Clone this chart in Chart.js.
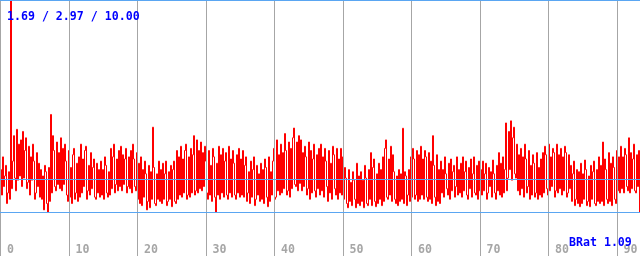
<!DOCTYPE html>
<html><head><meta charset="utf-8">
<script src="https://cdn.jsdelivr.net/npm/chart.js@4.4.1/dist/chart.umd.min.js"></script>
<style>html,body{margin:0;padding:0;background:#fff}#wrap{width:640px;height:256px}</style>
</head><body><div id="wrap"><canvas id="c" width="640" height="256"></canvas></div>
<script>
// series values, one sample per pixel column
const values = [
2.0,0.8,2.6,1.2, 1.7,2.2,0.4,0.9, 1.9,0.6,10.0,1.1, 2.4,3.6,1.6,1.0, 3.9,1.5,3.2,1.7,
3.4,1.2,3.8,1.6, 2.9,3.5,1.1,1.4, 3.1,0.8,2.6,1.5, 3.2,2.4,0.6,0.9, 2.8,1.2,2.3,0.7,
2.0,0.6,1.7,0.1, 2.2,1.9,0.4,0.0, 2.1,0.5,4.6,0.9, 3.6,2.9,1.2,1.0, 3.3,1.3,2.8,1.1,
3.5,1.0,3.0,1.3, 3.2,2.4,0.8,0.5, 2.9,0.7,2.1,0.4, 2.7,3.0,0.6,0.9, 2.3,0.5,2.6,0.7,
3.2,0.9,2.5,1.2, 2.9,3.1,0.6,1.0, 2.2,0.8,2.8,1.1, 2.1,2.5,0.7,0.6, 2.3,0.9,2.0,0.7,
2.4,0.8,2.0,0.6, 2.6,2.2,0.9,0.7, 1.9,0.8,3.0,1.1, 2.6,3.2,0.9,1.3, 2.5,1.0,2.9,1.2,
3.1,1.0,2.7,1.3, 2.5,3.0,0.9,1.2, 2.6,1.1,2.9,0.9, 3.2,2.5,1.2,1.0, 2.8,0.6,2.3,0.4,
2.6,0.3,2.0,0.7, 2.4,1.8,0.1,0.5, 2.2,0.2,1.9,0.6, 4.0,2.1,0.4,0.3, 1.8,0.6,2.4,0.5,
2.0,0.4,2.3,0.6, 1.8,2.4,0.3,0.5, 1.9,0.6,2.2,0.25, 2.0,2.4,0.5,0.4, 2.9,0.6,2.6,0.8,
3.1,0.7,2.5,0.9, 2.9,3.2,0.6,0.8, 2.6,0.7,3.0,0.9, 2.7,3.6,0.8,1.0, 3.4,0.9,2.9,1.1,
3.3,1.0,2.8,1.2, 3.1,2.4,0.9,0.6, 2.9,0.8,2.2,0.5, 3.0,2.6,0.7,0.0, 2.3,0.8,3.1,0.6,
2.7,0.9,3.0,0.7, 2.4,2.8,0.8,0.6, 3.1,0.9,2.5,0.7, 2.9,2.3,0.8,0.6, 2.7,0.9,3.0,0.7,
2.5,0.8,2.9,0.7, 2.2,2.6,0.5,0.9, 1.9,0.4,2.4,0.7, 2.0,2.6,0.3,0.6, 2.2,0.8,1.8,0.5,
2.3,0.6,2.0,0.4, 2.5,2.1,0.7,0.25, 2.6,0.5,1.9,0.8, 2.4,3.0,0.6,0.7, 3.4,1.0,2.7,0.8,
3.2,0.9,2.8,1.1, 3.7,2.9,0.8,1.0, 3.3,0.7,3.0,1.1, 3.5,3.96,1.3,1.2, 3.3,1.0,3.6,1.35,
3.4,1.0,2.8,1.2, 3.1,2.6,0.8,1.1, 3.3,0.6,2.9,0.9, 2.5,3.2,1.0,0.7, 2.7,1.1,3.0,0.8,
3.2,1.0,2.6,0.7, 3.0,2.4,1.2,0.5, 2.9,0.9,2.3,0.6, 3.1,2.7,1.1,0.8, 3.0,0.6,2.5,0.9,
3.0,0.8,2.6,0.6, 2.1,1.6,0.4,0.2, 2.0,0.5,1.4,0.3, 1.9,1.5,0.6,0.2, 2.3,0.4,1.7,0.3,
1.9,0.5,1.5,0.2, 2.2,1.6,0.4,0.3, 2.0,0.6,2.8,0.3, 2.1,2.5,0.5,0.25, 1.8,0.4,2.3,0.6,
2.0,0.3,2.6,0.5, 3.0,3.4,0.7,0.6, 2.5,0.8,3.1,0.5, 2.7,1.9,0.6,0.4, 1.7,0.3,2.0,0.5,
1.8,0.6,3.95,0.4, 1.9,1.7,0.3,0.8, 2.0,0.5,2.6,0.7, 3.0,2.5,0.6,0.8, 2.9,0.5,2.7,0.6,
3.1,0.8,2.5,0.6, 2.9,2.6,0.7,0.5, 2.8,0.6,2.4,0.4, 3.6,2.2,0.7,0.3, 2.7,0.5,2.0,0.4,
2.4,0.9,2.0,0.7, 2.6,1.8,1.1,0.8, 2.3,0.6,2.5,1.0, 1.9,2.2,0.7,1.2, 2.6,0.8,2.0,0.9,
2.3,0.7,2.6,1.0, 1.9,2.4,0.8,0.6, 2.1,1.1,2.5,0.7, 1.8,2.6,0.9,0.8, 2.2,0.6,2.4,1.0,
2.0,0.8,2.4,1.0, 1.8,2.3,0.6,0.9, 2.1,1.2,1.9,0.7, 2.45,1.8,0.9,0.6, 2.2,1.0,2.8,0.8,
2.3,0.7,2.6,0.9, 2.0,4.2,1.0,1.6, 3.8,2.0,4.3,1.5, 3.5,4.0,1.8,1.6, 3.2,1.0,2.7,0.8,
3.0,1.1,2.6,0.7, 3.2,2.5,0.9,1.2, 2.9,0.6,2.2,0.8, 2.7,2.3,0.7,0.9, 2.8,0.6,2.1,0.8,
2.5,0.7,2.8,0.9, 3.1,2.7,1.1,0.8, 3.2,1.0,2.6,1.2, 3.0,2.8,0.7,1.0, 3.2,0.9,2.7,1.1,
3.0,0.8,2.6,1.0, 3.1,2.8,0.7,0.9, 2.7,1.1,2.2,0.5, 1.8,2.4,0.3,0.6, 2.0,0.4,1.9,0.25,
2.3,0.4,1.8,0.6, 2.45,2.0,0.3,0.5, 1.7,0.25,2.2,0.6, 1.9,2.4,0.4,0.3, 2.0,0.5,2.6,0.4,
2.2,0.5,3.3,0.3, 2.5,2.0,0.6,0.4, 2.8,0.5,2.3,0.3, 2.6,2.1,0.6,0.4, 2.9,1.0,2.6,0.9,
3.1,1.1,2.6,0.9, 3.0,2.7,1.2,1.0, 3.5,0.9,2.8,1.1, 2.5,3.2,1.0,0.9, 2.7,1.2,2.9,0.0
];
const xMax = 93.43;         // right edge of the axis (one sample per pixel column)
const xTicks = [0,10,20,30,40,50,60,70,80,90];
const yMin = 0, yMax = 10;
const refLevels = [0, 1.56, 10];
const statsText = "1.69 / 2.97 / 10.00";
const ratioText = "BRat 1.09";

const points = values.map((v, i) => ({x: (i + 0.5) * xMax / values.length, y: v}));

const FONT = '"DejaVu Sans Mono", "Liberation Mono", monospace';

const overlay = {
  id: 'overlay',
  afterDatasetsDraw(chart) {
    const ctx = chart.ctx, xs = chart.scales.x, ys = chart.scales.y;
    ctx.save();
    ctx.lineWidth = 1;
    ctx.strokeStyle = '#a6a6a6';
    xTicks.forEach(t => {
      const px = Math.round(xs.getPixelForValue(t)) + 0.5;
      ctx.beginPath(); ctx.moveTo(px, 0); ctx.lineTo(px, 256); ctx.stroke();
    });
    ctx.strokeStyle = '#5aa6f2';
    refLevels.forEach(v => {
      let py = Math.round(ys.getPixelForValue(v)) + 0.5;
      py = Math.min(Math.max(py, 0.5), 255.5);
      ctx.beginPath(); ctx.moveTo(0, py); ctx.lineTo(640, py); ctx.stroke();
    });
    ctx.font = 'bold 11.6px ' + FONT;
    ctx.fillStyle = '#0000ff';
    ctx.textBaseline = 'alphabetic';
    ctx.textAlign = 'left';
    ctx.fillText(statsText, 7, 20);
    ctx.fillText(ratioText, 569, 246);
    ctx.restore();
  }
};

new Chart(document.getElementById('c'), {
  type: 'line',
  data: { datasets: [{ data: points, borderColor: '#ff0000', borderWidth: 1,
          stepped: 'before', pointRadius: 0, tension: 0, fill: false }] },
  options: {
    responsive: false, animation: false, devicePixelRatio: 1,
    layout: { padding: 0 },
    plugins: { legend: { display: false }, tooltip: { enabled: false } },
    scales: {
      x: { type: 'linear', min: 0, max: xMax,
           afterBuildTicks: s => { s.ticks = xTicks.map(v => ({value: v})); },
           afterFit: s => { s.height = 44; s.paddingLeft = 0; s.paddingRight = 0; },
           grid: { display: false }, border: { display: false },
           ticks: { color: '#a6a6a6', align: 'start', labelOffset: 7, padding: 23,
                    maxRotation: 0, autoSkip: false,
                    font: { family: FONT, size: 11.6, weight: 'bold' },
                    callback: v => String(v) } },
      y: { display: false, min: yMin, max: yMax }
    }
  },
  plugins: [overlay]
});
</script>
</body></html>
